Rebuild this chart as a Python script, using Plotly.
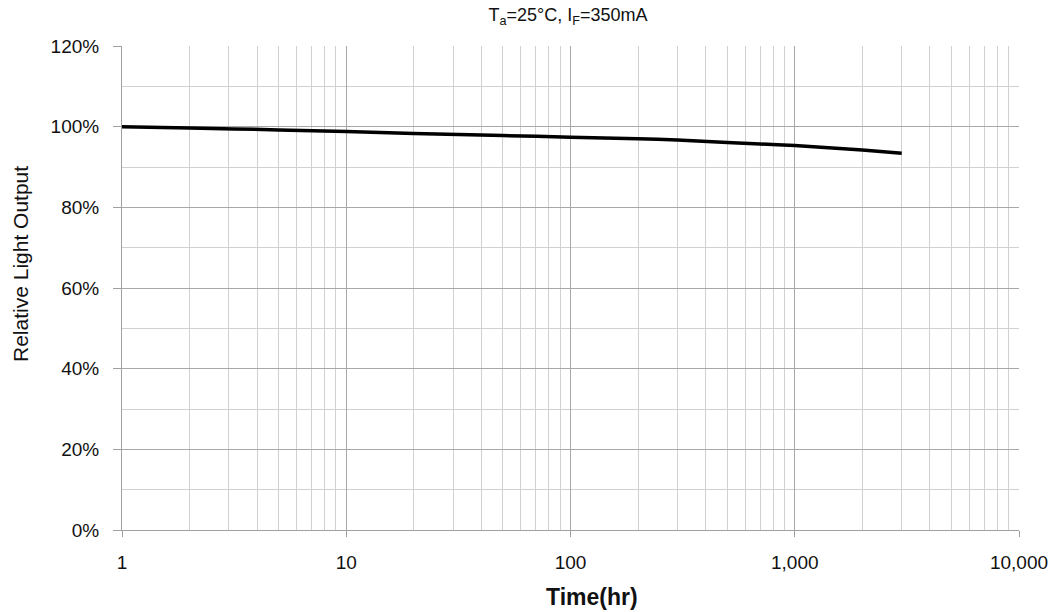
import plotly.graph_objects as go

time_hr = [1, 2, 5, 10, 20, 50, 100, 200, 300, 500, 700, 1000, 2000, 3000]
rel_output = [100.0, 99.7, 99.2, 98.8, 98.3, 97.8, 97.4, 97.0, 96.7, 96.1, 95.7, 95.3, 94.2, 93.4]

x_tickvals = [1, 10, 100, 1000, 10000]
x_ticktext = ["1", "10", "100", "1,000", "10,000"]
y_tickvals = [0, 20, 40, 60, 80, 100, 120]
y_ticktext = ["0%", "20%", "40%", "60%", "80%", "100%", "120%"]

FONT = "Liberation Sans, Arial, sans-serif"
W, H = 1055, 612
ML, MR, MT, MB = 122, 36, 46, 82
PW, PH = W - ML - MR, H - MT - MB


def px_to_paper(px, py):
    return (px - ML) / PW, (H - MB - py) / PH


fig = go.Figure()
fig.add_trace(go.Scatter(
    x=time_hr, y=rel_output, mode="lines",
    line=dict(color="black", width=3.5, shape="spline", smoothing=0.3),
    showlegend=False, hoverinfo="skip",
))

fig.update_layout(
    width=W, height=H,
    margin=dict(l=ML, r=MR, t=MT, b=MB, autoexpand=False),
    paper_bgcolor="white", plot_bgcolor="white",
    font=dict(family=FONT, size=19, color="#111111"),
    title=dict(text="T<sub>a</sub>=25°C, I<sub>F</sub>=350mA",
               x=568 / W, xanchor="center", y=1 - 15 / H, yanchor="middle",
               font=dict(family=FONT, size=18, color="#111111")),
)

xt_x, xt_y = px_to_paper(592, 597)
yt_x, yt_y = px_to_paper(20, 264)
fig.add_annotation(text="<b>Time(hr)</b>", xref="paper", yref="paper",
                   x=xt_x, y=xt_y, xanchor="center", yanchor="middle",
                   showarrow=False, font=dict(family=FONT, size=23, color="#111111"))
fig.add_annotation(text="Relative Light Output", xref="paper", yref="paper",
                   x=yt_x, y=yt_y, xanchor="center", yanchor="middle", textangle=-90,
                   showarrow=False, font=dict(family=FONT, size=21, color="#111111"))

fig.update_xaxes(
    type="log", range=[0, 4], automargin=False,
    tickvals=x_tickvals, ticktext=x_ticktext,
    showgrid=True, gridcolor="#a8a8a8", gridwidth=1,
    ticks="outside", ticklen=6, tickcolor="#a0a0a0",
    ticklabelstandoff=9,
    showline=True, linecolor="#a0a0a0", linewidth=1,
    minor=dict(dtick="D1", showgrid=True, gridcolor="#d0d0d0", gridwidth=1, ticks=""),
    tickfont=dict(size=19),
    zeroline=False,
)

fig.update_yaxes(
    range=[0, 120], automargin=False, tickvals=y_tickvals, ticktext=y_ticktext,
    showgrid=True, gridcolor="#a8a8a8", gridwidth=1,
    ticks="outside", ticklen=8, tickcolor="#a0a0a0",
    ticklabelstandoff=10,
    showline=True, linecolor="#a0a0a0", linewidth=1,
    minor=dict(dtick=10, showgrid=True, gridcolor="#d0d0d0", gridwidth=1, ticks=""),
    tickfont=dict(size=19),
    zeroline=False,
)

fig.write_html("out.html")
